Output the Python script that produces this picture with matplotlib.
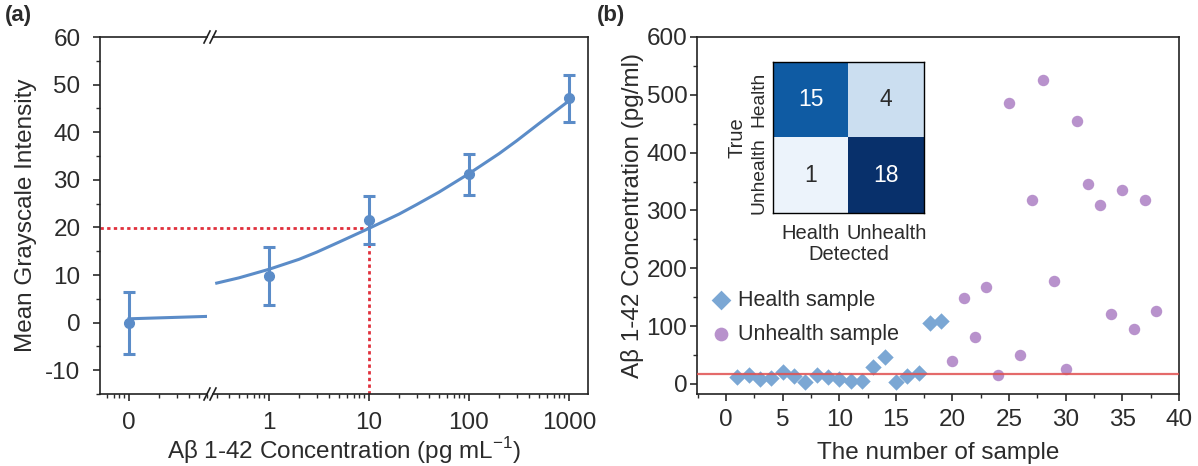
import matplotlib
matplotlib.use("Agg")
import matplotlib.pyplot as plt
from matplotlib.lines import Line2D
from matplotlib.ticker import FixedLocator, NullFormatter, MultipleLocator
import numpy as np

plt.rcParams['font.family'] = ['Liberation Sans', 'DejaVu Sans']
plt.rcParams['mathtext.fontset'] = 'custom'
plt.rcParams['mathtext.rm'] = 'Liberation Sans'
plt.rcParams['axes.unicode_minus'] = False
plt.rcParams['text.color'] = '#2b2b2b'
plt.rcParams['axes.labelcolor'] = '#2b2b2b'
plt.rcParams['xtick.color'] = '#2b2b2b'
plt.rcParams['ytick.color'] = '#2b2b2b'

# ---- panel (a) data: calibration ----
conc = [1, 10, 100, 1000]
gray_mean = [9.8, 21.6, 31.2, 47.1]
gray_err = [6.0, 5.1, 4.3, 5.0]
blank_mean = 0.0
blank_err = 6.5
# fitted curve
fit_x = [0.3, 0.5, 1, 2, 3, 5, 10, 20, 30, 50, 100, 200, 300, 500, 1000]
fit_y = [8.3, 9.4, 11.2, 13.3, 14.8, 16.9, 19.8, 22.8, 24.8, 27.4, 31.3, 35.5, 38.2, 41.8, 46.6]
blank_fit_y = [0.8, 1.3]
lod_x = 10
lod_y = 19.8

# ---- panel (b) data: samples ----
health_n = list(range(1, 20))
health_val = [12, 16, 8, 11, 21, 13, 4, 16, 12, 9, 5, 5, 30, 47, 4, 14, 19, 106, 109]
unhealth_n = list(range(20, 39))
unhealth_val = [39, 149, 82, 168, 16, 486, 51, 319, 526, 178, 26, 455, 346, 309, 121, 335, 95, 319, 127]
cutoff = 17
cm_vals = [[15, 4], [1, 18]]
cm_labels = ['Health', 'Unhealth']

blue = '#5b8cc8'
W, H = 1198, 466


def fx(px):
    return px / W


def fy(py):
    return 1 - py / H


fig = plt.figure(figsize=(11.98, 4.66), dpi=100)
fs = 17.5

# left part of the broken x axis (holds the blank "0")
zero_pos = 0.1
ax_l = fig.add_axes([fx(100), fy(394), fx(207) - fx(100), fy(37) - fy(394)])
ax_r = fig.add_axes([fx(213), fy(394), fx(588) - fx(213), fy(37) - fy(394)])

ax_l.set_xscale('log')
ax_l.set_xlim(10 ** -1.29, 10 ** -0.22)
ax_r.set_xscale('log')
ax_r.set_xlim(10 ** -0.56, 10 ** 3.19)
for ax in (ax_l, ax_r):
    ax.set_ylim(-15, 60)
    ax.yaxis.set_major_locator(MultipleLocator(10))
    ax.yaxis.set_minor_locator(MultipleLocator(5))
    ax.tick_params(which='major', length=5, width=1.2, labelsize=fs, direction='out', pad=7)
    ax.tick_params(which='minor', length=3, width=1.0, direction='out')
    for s in ax.spines.values():
        s.set_linewidth(1.2)
        s.set_color('#222222')

ax_l.spines['right'].set_visible(False)
ax_r.spines['left'].set_visible(False)
ax_r.tick_params(axis='y', which='both', left=False, labelleft=False)
ax_l.tick_params(axis='y', pad=9)

ax_l.xaxis.set_major_locator(FixedLocator([zero_pos]))
ax_l.set_xticklabels(['0'])
ax_l.xaxis.set_minor_locator(FixedLocator([0.06, 0.07, 0.08, 0.09, 0.2, 0.3, 0.4, 0.5, 0.6]))
ax_l.xaxis.set_minor_formatter(NullFormatter())
ax_r.xaxis.set_major_locator(FixedLocator(conc))
ax_r.set_xticklabels([str(c) for c in conc])
ax_r.xaxis.set_minor_formatter(NullFormatter())
ax_l.tick_params(axis='x', pad=8)
ax_r.tick_params(axis='x', pad=8)

# red dotted guide lines
red = '#e0303c'
dots = (0, (1.2, 1.2))
ax_l.plot([ax_l.get_xlim()[0], 0.7], [lod_y, lod_y], color=red, lw=2, ls=dots, zorder=1, clip_on=False)
ax_r.plot([ax_r.get_xlim()[0], lod_x], [lod_y, lod_y], color=red, lw=2, ls=dots, zorder=1)
ax_r.plot([lod_x, lod_x], [-15, lod_y], color=red, lw=2, ls=dots, zorder=1)

ax_r.plot(fit_x, fit_y, color=blue, lw=2.2, zorder=2)
ax_l.plot([zero_pos, 0.6], blank_fit_y, color=blue, lw=2.2, zorder=2)
ax_r.errorbar(conc, gray_mean, yerr=gray_err, fmt='o', color=blue, ms=7, capsize=4,
              elinewidth=2.2, capthick=2.2, zorder=3)
ax_l.errorbar([zero_pos], [blank_mean], yerr=[blank_err], fmt='o', color=blue, ms=7, capsize=4,
              elinewidth=2.2, capthick=2.2, zorder=3)

ax_l.set_ylabel('Mean Grayscale Intensity', fontsize=fs, labelpad=6)
fig.text(fx(344), fy(451), 'Aβ 1-42 Concentration (pg mL$^{-1}$)', fontsize=fs,
         ha='center', va='center')

# break marks
for yy in (37, 394):
    for dx in (-3, 3):
        x0 = 210 + dx
        fig.add_artist(Line2D([fx(x0 - 3), fx(x0 + 3)], [fy(yy + 6), fy(yy - 6)],
                              color='#222222', lw=1.2))

fig.text(fx(5), fy(16), '(a)', fontsize=16, fontweight='bold', ha='left', va='center')

# ---- panel (b) ----
ax_b = fig.add_axes([fx(697), fy(394), fx(1179) - fx(697), fy(37) - fy(394)])
ax_b.set_xlim(-2.56, 40)
ax_b.set_ylim(-17.3, 600)
ax_b.xaxis.set_major_locator(MultipleLocator(5))
ax_b.xaxis.set_minor_locator(MultipleLocator(2.5))
ax_b.yaxis.set_major_locator(MultipleLocator(100))
ax_b.yaxis.set_minor_locator(MultipleLocator(50))
ax_b.tick_params(which='major', length=5, width=1.2, labelsize=fs, direction='out', pad=6)
ax_b.tick_params(which='minor', length=3, width=1.0, direction='out')
ax_b.tick_params(axis='y', pad=2)
for s in ax_b.spines.values():
    s.set_linewidth(1.2)
    s.set_color('#222222')

ax_b.scatter(health_n, health_val, marker='D', s=70, color='#7ba7d4', label='Health sample', zorder=3,
             linewidths=0)
ax_b.scatter(unhealth_n, unhealth_val, marker='o', s=68, color='#b892cc', label='Unhealth sample', zorder=3,
             linewidths=0)
ax_b.axhline(cutoff, color='#e05050', lw=1.6, alpha=0.85, zorder=4)

ax_b.set_xlabel('The number of sample', fontsize=fs, labelpad=8)
ax_b.set_ylabel('Aβ 1-42 Concentration (pg/ml)', fontsize=fs, labelpad=2)
ax_b.legend(loc='center left', bbox_to_anchor=(0.01, 0.215), frameon=False, fontsize=15.5,
            handletextpad=0.3, labelspacing=0.6, borderaxespad=0, handlelength=1.0,
            markerscale=1.2)

fig.text(fx(597), fy(16), '(b)', fontsize=16, fontweight='bold', ha='left', va='center')

# inset confusion matrix
ax_i = fig.add_axes([fx(773), fy(213), fx(924) - fx(773), fy(62) - fy(213)])
ax_i.imshow(np.array(cm_vals), cmap='Blues', vmin=0, vmax=18, aspect='auto')
for i in range(2):
    for j in range(2):
        v = cm_vals[i][j]
        ax_i.text(j, i, str(v), ha='center', va='center', fontsize=16.5,
                  color='white' if v > 9 else '#2b2b2b')
ax_i.set_xticks([0, 1])
ax_i.set_xticklabels(cm_labels, fontsize=14.5)
ax_i.set_yticks([0, 1])
ax_i.set_yticklabels(cm_labels, fontsize=13.8, rotation=90, va='center')
ax_i.tick_params(axis='x', length=0, pad=8)
ax_i.tick_params(axis='y', length=0, pad=4)
ax_i.set_xlabel('Detected', fontsize=14.5, labelpad=1)
ax_i.set_ylabel('True', fontsize=14.5, labelpad=3)
for s in ax_i.spines.values():
    s.set_linewidth(1.0)

fig.savefig('out.png', dpi=100)
